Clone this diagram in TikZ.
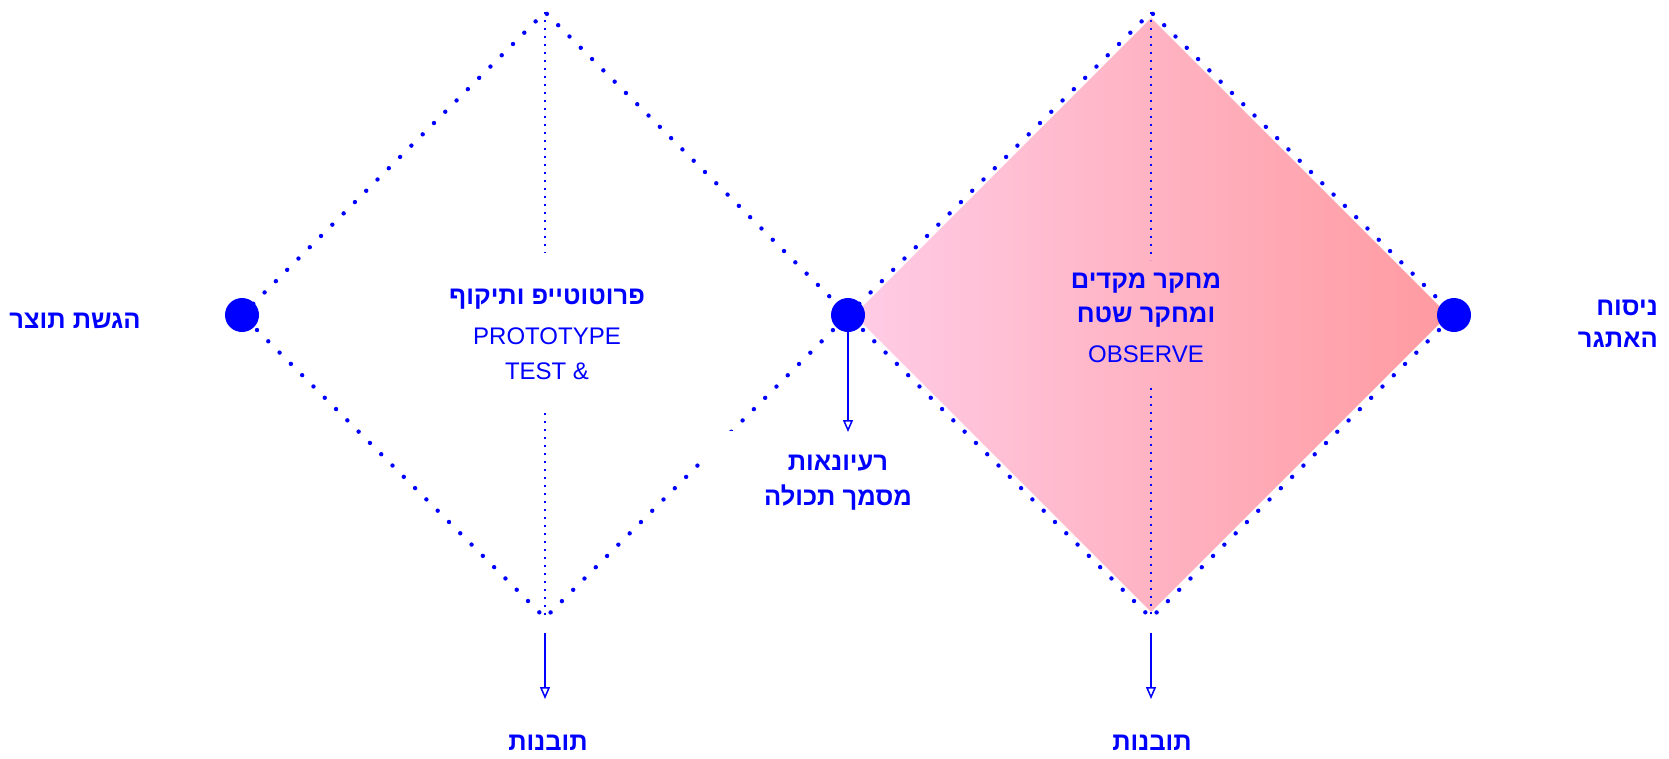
\documentclass[tikz,border=0pt]{standalone}
\usepackage{fontspec}
\setmainfont{Liberation Sans}
\newfontfamily\hebfont[Script=Hebrew]{Liberation Sans}
\TeXXeTstate=1
\usetikzlibrary{arrows.meta}

\definecolor{ink}{RGB}{0,0,255}
\definecolor{pinkL}{RGB}{255,204,230}
\definecolor{pinkR}{RGB}{255,154,160}

\begin{document}
\begin{tikzpicture}[x=1pt,y=-1pt,
  rim/.style={ink, line width=4.4pt, line cap=round, dash pattern=on 0pt off 15.97pt},
  spine/.style={ink, line width=1.8pt, dash pattern=on 1.8pt off 6.2pt},
  hub/.style={circle, fill=ink, minimum size=34pt, inner sep=0pt},
  flow/.style={ink, line width=1.5pt, -{Triangle[open, length=12pt, width=10pt, line width=1.5pt]}},
  heb/.style={font=\hebfont\bfseries\fontsize{25.5}{30}\selectfont, text=ink, align=center, inner sep=0pt},
  hebR/.style={font=\hebfont\bfseries\fontsize{25.5}{32}\selectfont, text=ink, align=right, inner sep=0pt},
  lat/.style={font=\fontsize{24}{28}\selectfont, text=ink, inner sep=0pt}
]
\useasboundingbox (0,0) rectangle (1669,758);

% corner points of the two diamonds
\coordinate (w1) at (242,315);
\coordinate (n1) at (545,12);
\coordinate (s1) at (545,618);
\coordinate (v)  at (848,315);
\coordinate (n2) at (1151,12);
\coordinate (s2) at (1151,618);
\coordinate (e2) at (1454,315);

% shaded second diamond
\shade[left color=pinkL, right color=pinkR]
  (854,315) -- (1151,18) -- (1448,315) -- (1151,612) -- cycle;

% dotted outlines
\draw[rim] (w1) -- (n1) -- (v) -- (s1) -- cycle;
\draw[rim] (v) -- (n2) -- (e2) -- (s2) -- cycle;
\fill[white] (700,431) rectangle (745,461);

% dotted centre axes
\draw[spine] (n1) -- (545,253);
\draw[spine] (545,413) -- (s1);
\draw[spine] (n2) -- (1151,260);
\draw[spine] (1151,388) -- (s2);

% hubs
\node[hub] (hubL) at (w1) {};
\node[hub] (hubM) at (v) {};
\node[hub] (hubR) at (e2) {};

% arrows
\coordinate (midEnd) at (848,432);
\coordinate (aL) at (545,633);
\coordinate (bL) at (545,699);
\coordinate (aR) at (1151,633);
\coordinate (bR) at (1151,699);
\draw[flow] (hubM.south) -- (midEnd);
\draw[flow] (aL) -- (bL);
\draw[flow] (aR) -- (bR);

% labels
\node[heb] (deliver) at (75,321) {\beginR הגשת תוצר\endR};
\node[hebR, anchor=east] (define) at (1658,324) {\beginR ניסוח\endR\\\beginR האתגר\endR};

\node[heb] (protoHe) at (547,299) {\beginR פרוטוטייפ ותיקוף\endR};
\node[lat] (protoEn) at (547,336) {PROTOTYPE};
\node[lat] (testEn) at (547,371) {TEST \&};

\node[heb] (obsHe1) at (1146,283) {\beginR מחקר מקדים\endR};
\node[heb] (obsHe2) at (1146,317) {\beginR ומחקר שטח\endR};
\node[lat] (obsEn) at (1146,354) {OBSERVE};

\node[heb] (ideate1) at (838,463) {\beginR רעיונאות\endR};
\node[heb] (ideate2) at (838,498) {\beginR מסמך תכולה\endR};

\node[heb] (insL) at (548,743) {\beginR תובנות\endR};
\node[heb] (insR) at (1152,743) {\beginR תובנות\endR};
\end{tikzpicture}
\end{document}
